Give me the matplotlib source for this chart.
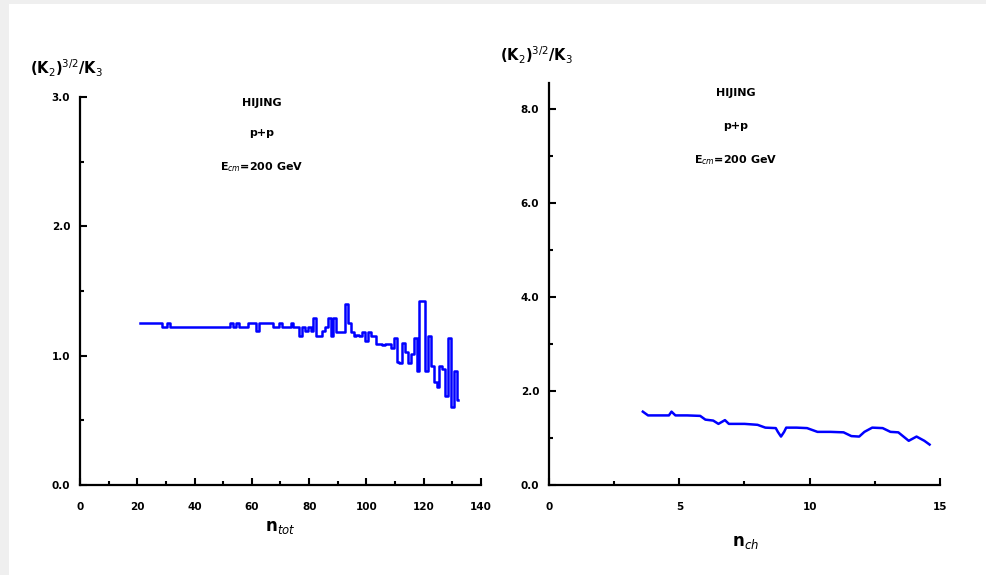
import numpy as np
import matplotlib
matplotlib.use('Agg')
import matplotlib.pyplot as plt
from matplotlib.patches import Rectangle

# ## Data

# left panel: ratio vs n_tot (one point per integer n)
n_tot = list(range(21, 133))
ratio_tot = [1.25]*8 + [1.22, 1.22, 1.25] + [1.22]*21 + \
    [1.25, 1.22, 1.25, 1.22, 1.22, 1.22, 1.25, 1.25, 1.25, 1.19,
     1.25, 1.25, 1.25, 1.25, 1.25, 1.22, 1.22, 1.25, 1.22, 1.22,
     1.22, 1.25, 1.22, 1.22, 1.15, 1.22, 1.19, 1.22, 1.19, 1.29,
     1.15, 1.15, 1.19, 1.22, 1.29, 1.15, 1.29, 1.18, 1.18, 1.18,
     1.40, 1.25, 1.18, 1.15, 1.16, 1.15, 1.18, 1.11, 1.18, 1.15,
     1.15, 1.09, 1.09, 1.08, 1.09, 1.09, 1.06, 1.14, 0.95, 0.94,
     1.10, 1.03, 0.94, 1.01, 1.14, 0.88, 1.42, 1.42, 0.88, 1.15,
     0.92, 0.80, 0.76, 0.92, 0.90, 0.69, 1.14, 0.60, 0.88, 0.66]

# right panel: ratio vs n_ch
n_ch = [3.6, 3.8, 4.2, 4.6, 4.7, 4.85, 5.3, 5.8, 6.0, 6.3, 6.5, 6.75, 6.9,
        7.5, 8.0, 8.3, 8.7, 8.78, 8.9, 9.02, 9.1, 9.5, 9.9, 10.3, 10.8,
        11.3, 11.6, 11.9, 12.1, 12.4, 12.8, 13.1, 13.4, 13.6, 13.8, 14.1,
        14.4, 14.6]
ratio_ch = [1.56, 1.48, 1.48, 1.48, 1.56, 1.48, 1.48, 1.47, 1.39, 1.37,
            1.30, 1.38, 1.30, 1.30, 1.28, 1.22, 1.21, 1.13, 1.03, 1.13,
            1.22, 1.22, 1.21, 1.13, 1.13, 1.12, 1.04, 1.03, 1.13, 1.22,
            1.21, 1.13, 1.12, 1.03, 0.94, 1.03, 0.94, 0.86]

left_yticks = [0, 1, 2, 3]
left_xticks = [0, 20, 40, 60, 80, 100, 120, 140]
right_yticks = [0, 2, 4, 6, 8]
right_xticks = [0, 5, 10, 15]

ylab = r'(K$_2$)$^{3/2}$/K$_3$'
info = ['HIJING', 'p+p', r'E$_{cm}$=200 GeV']

W, H = 987, 575
fig = plt.figure(figsize=(W/100, H/100), dpi=100, facecolor='#efefef')
fig.patches.append(Rectangle((9/W, 0), (986-9)/W, 1-4/H, transform=fig.transFigure,
                             facecolor='white', edgecolor='none', zorder=-10))

def style(ax):
    for s in ['top', 'right']:
        ax.spines[s].set_visible(False)
    for s in ['left', 'bottom']:
        ax.spines[s].set_linewidth(1.6)
    ax.tick_params(which='major', direction='in', length=5, width=1.5, labelsize=7.5, pad=12)
    ax.tick_params(which='minor', direction='in', length=3, width=1.5)
    ax.set_facecolor('none')
    ax.set_zorder(5)
    for t in ax.get_xticklabels() + ax.get_yticklabels():
        t.set_fontweight('bold')

# ## Left panel
ax1 = fig.add_axes([80/W, 1-485/H, 401/W, 388/H])
ax1.plot(n_tot, ratio_tot, color='#0000ff', lw=1.8, drawstyle='steps-mid')
ax1.set_xlim(0, 140)
ax1.set_ylim(0, 3)
ax1.set_xticks(left_xticks)
ax1.set_xticks(np.arange(10, 140, 20), minor=True)
ax1.set_yticks(left_yticks)
ax1.set_yticks([0.5, 1.5, 2.5], minor=True)
ax1.set_xticklabels([str(v) for v in left_xticks])
ax1.set_yticklabels(['%.1f' % v for v in left_yticks])
style(ax1)
ax1.tick_params(axis='y', pad=7)

# ## Right panel
ax2 = fig.add_axes([549/W, 1-485/H, 391/W, 402/H])
ax2.plot(n_ch, ratio_ch, color='#0000ff', lw=1.8)
ax2.set_xlim(0, 15)
ax2.set_ylim(0, 8.55)
ax2.set_xticks(right_xticks)
ax2.set_xticks([2.5, 7.5, 12.5], minor=True)
ax2.set_yticks(right_yticks)
ax2.set_yticks([1, 3, 5, 7], minor=True)
ax2.set_xticklabels([str(v) for v in right_xticks])
ax2.set_yticklabels(['%.1f' % v for v in right_yticks])
style(ax2)
ax2.tick_params(axis='y', pad=7)

# ## Labels and annotations
fig.text(30/W, 1-68/H, ylab, fontsize=10.5, fontweight='bold', va='center')
fig.text(500/W, 1-55/H, ylab, fontsize=10.5, fontweight='bold', va='center')
fig.text(280/W, 1-527/H, r'n$_{tot}$', fontsize=12, fontweight='bold', ha='center', va='center')
fig.text(745/W, 1-542/H, r'n$_{ch}$', fontsize=12, fontweight='bold', ha='center', va='center')

for txt, y in zip(info, [103, 133, 167]):
    fig.text(262/W, 1-y/H, txt, fontsize=8, fontweight='bold', ha='center', va='center')
for txt, y in zip(info, [93, 126, 160]):
    fig.text(736/W, 1-y/H, txt, fontsize=8, fontweight='bold', ha='center', va='center')

fig.savefig('out.png', dpi=100, facecolor=fig.get_facecolor())
